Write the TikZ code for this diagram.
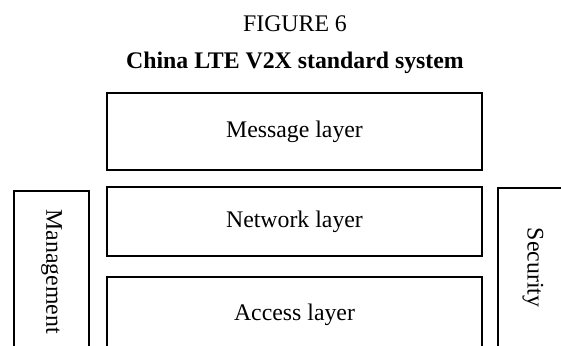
\documentclass[tikz,border=0pt]{standalone}
\usepackage{fontspec}
\setmainfont{Liberation Serif}
\begin{document}
\begin{tikzpicture}[x=1pt,y=1pt,
  lay/.style={draw,line width=1.8pt,inner sep=0pt,font=\fontsize{23.8}{28}\selectfont},
  ttl/.style={anchor=base,inner sep=0pt,font=\fontsize{23.8}{28}\selectfont}]
\useasboundingbox (0,0) rectangle (561,-345);
\clip (0,0) rectangle (561,-345);
\node[ttl] (fig) at (295,-31) {FIGURE 6};
\node[ttl,font=\fontsize{23.8}{28}\selectfont\bfseries] (title) at (295,-68) {China LTE V2X standard system};
\node[lay,minimum width=375pt,minimum height=77pt] (msg) at (294.5,-131.5) {Message layer};
\node[lay,minimum width=375pt,minimum height=69pt] (net) at (294.5,-221.5) {Network layer};
\node[lay,minimum width=375pt,minimum height=76pt] (acc) at (294.5,-315) {Access layer};
\node[lay,rotate=-90,minimum width=161pt,minimum height=75pt] (mgmt) at (51.5,-271.5) {Management};
\node[lay,rotate=-90,minimum width=159pt,minimum height=70pt] (sec) at (533,-267.5) {Security};
\end{tikzpicture}
\end{document}
